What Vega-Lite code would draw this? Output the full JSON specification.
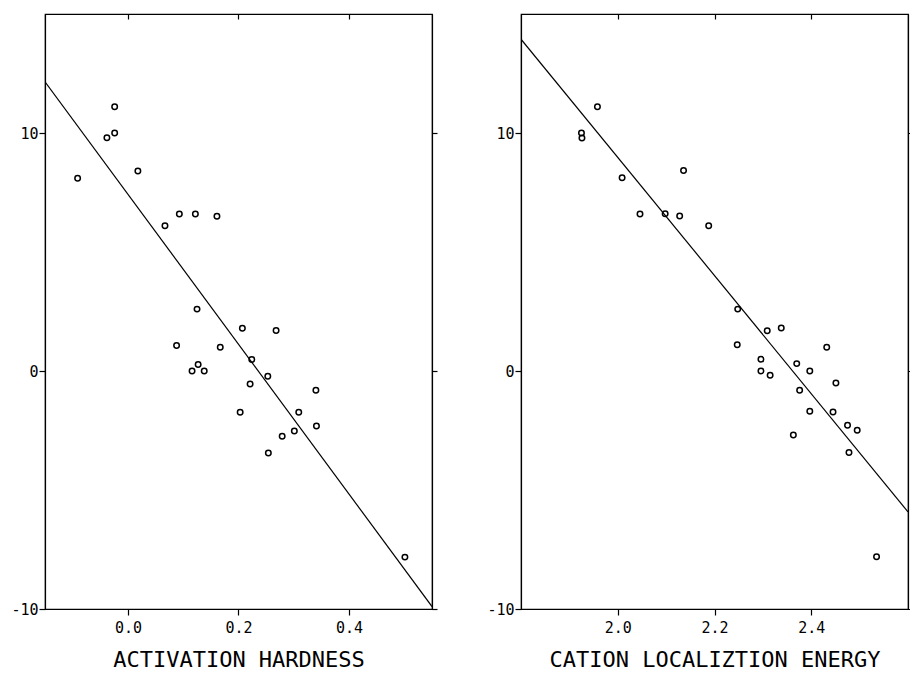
{
  "$schema": "https://vega.github.io/schema/vega-lite/v6.json",
  "background": "white",
  "padding": {"left": 10, "top": 12, "right": 0, "bottom": 5},
  "bounds": "flush",
  "spacing": 89,
  "config": {
    "view": {"stroke": "black", "strokeWidth": 1.2},
    "axis": {
      "grid": false,
      "domainColor": "black",
      "domainWidth": 1.2,
      "tickColor": "black",
      "tickWidth": 1.2,
      "labelFont": "DejaVu Sans Mono",
      "labelFontSize": 15,
      "labelColor": "black",
      "titleFont": "DejaVu Sans Mono",
      "titleFontSize": 22,
      "titleFontWeight": "normal",
      "titleColor": "black"
    }
  },
  "datasets": {
    "hardness": [
      {"x": -0.091, "y": 8.1},
      {"x": -0.038, "y": 9.8},
      {"x": -0.024, "y": 10.0},
      {"x": -0.024, "y": 11.1},
      {"x": 0.018, "y": 8.4},
      {"x": 0.067, "y": 6.1},
      {"x": 0.093, "y": 6.6},
      {"x": 0.122, "y": 6.6},
      {"x": 0.161, "y": 6.5},
      {"x": 0.125, "y": 2.6},
      {"x": 0.207, "y": 1.8},
      {"x": 0.268, "y": 1.7},
      {"x": 0.088, "y": 1.07},
      {"x": 0.167, "y": 1.0},
      {"x": 0.116, "y": 0.0},
      {"x": 0.127, "y": 0.27},
      {"x": 0.138, "y": 0.0},
      {"x": 0.224, "y": 0.48},
      {"x": 0.253, "y": -0.22},
      {"x": 0.221, "y": -0.55},
      {"x": 0.34, "y": -0.81},
      {"x": 0.203, "y": -1.73},
      {"x": 0.309, "y": -1.73},
      {"x": 0.341, "y": -2.31},
      {"x": 0.301, "y": -2.52},
      {"x": 0.279, "y": -2.74},
      {"x": 0.254, "y": -3.45},
      {"x": 0.501, "y": -7.82}
    ],
    "cation": [
      {"x": 1.958, "y": 11.1},
      {"x": 1.925, "y": 10.0},
      {"x": 1.926, "y": 9.79},
      {"x": 2.009, "y": 8.12},
      {"x": 2.136, "y": 8.42},
      {"x": 2.046, "y": 6.6},
      {"x": 2.098, "y": 6.61},
      {"x": 2.128, "y": 6.51},
      {"x": 2.188, "y": 6.1},
      {"x": 2.248, "y": 2.6},
      {"x": 2.309, "y": 1.69},
      {"x": 2.338, "y": 1.81},
      {"x": 2.247, "y": 1.1},
      {"x": 2.296, "y": 0.49},
      {"x": 2.296, "y": 0.0},
      {"x": 2.315, "y": -0.18},
      {"x": 2.37, "y": 0.31},
      {"x": 2.397, "y": 0.0},
      {"x": 2.432, "y": 1.0},
      {"x": 2.451, "y": -0.5},
      {"x": 2.376, "y": -0.81},
      {"x": 2.397, "y": -1.69},
      {"x": 2.445, "y": -1.72},
      {"x": 2.475, "y": -2.28},
      {"x": 2.495, "y": -2.49},
      {"x": 2.363, "y": -2.69},
      {"x": 2.478, "y": -3.42},
      {"x": 2.535, "y": -7.8}
    ],
    "fitHardness": [
      {"x": -0.15, "y": 12.15},
      {"x": 0.55, "y": -9.9}
    ],
    "fitCation": [
      {"x": 1.8, "y": 13.94},
      {"x": 2.6, "y": -5.92}
    ]
  },
  "hconcat": [
    {
      "width": 387,
      "height": 595,
      "resolve": {"axis": {"x": "independent", "y": "independent"}},
      "layer": [
        {
          "data": {"name": "hardness"},
          "mark": {"type": "point", "shape": "circle", "filled": false, "stroke": "black", "strokeWidth": 1.5, "size": 30, "opacity": 1},
          "encoding": {
            "x": {"field": "x", "type": "quantitative",
              "scale": {"domain": [-0.15, 0.55], "nice": false, "zero": false},
              "axis": {"orient": "bottom", "values": [0, 0.2, 0.4], "format": ".1f", "tickSize": 6, "labelPadding": 5, "title": "ACTIVATION HARDNESS", "titlePadding": 14}},
            "y": {"field": "y", "type": "quantitative",
              "scale": {"domain": [-10, 15], "nice": false, "zero": false},
              "axis": {"orient": "left", "values": [-10, 0, 10], "labelExpr": "'' + datum.value", "tickSize": 6, "labelPadding": 1, "title": null}}
          }
        },
        {
          "data": {"name": "fitHardness"},
          "mark": {"type": "line", "color": "black", "strokeWidth": 1.2, "clip": true},
          "encoding": {
            "x": {"field": "x", "type": "quantitative",
              "axis": {"orient": "top", "values": [0, 0.2, 0.4], "labels": false, "tickSize": -5, "title": null}},
            "y": {"field": "y", "type": "quantitative",
              "axis": {"orient": "right", "values": [-10, 0, 10], "labels": false, "tickSize": 5, "title": null}}
          }
        }
      ]
    },
    {
      "width": 387,
      "height": 595,
      "resolve": {"axis": {"x": "independent", "y": "independent"}},
      "layer": [
        {
          "data": {"name": "cation"},
          "mark": {"type": "point", "shape": "circle", "filled": false, "stroke": "black", "strokeWidth": 1.5, "size": 30, "opacity": 1},
          "encoding": {
            "x": {"field": "x", "type": "quantitative",
              "scale": {"domain": [1.8, 2.6], "nice": false, "zero": false},
              "axis": {"orient": "bottom", "values": [2.0, 2.2, 2.4], "format": ".1f", "tickSize": 6, "labelPadding": 5, "title": "CATION LOCALIZTION ENERGY", "titlePadding": 14}},
            "y": {"field": "y", "type": "quantitative",
              "scale": {"domain": [-10, 15], "nice": false, "zero": false},
              "axis": {"orient": "left", "values": [-10, 0, 10], "labelExpr": "'' + datum.value", "tickSize": 6, "labelPadding": 1, "title": null}}
          }
        },
        {
          "data": {"name": "fitCation"},
          "mark": {"type": "line", "color": "black", "strokeWidth": 1.2, "clip": true},
          "encoding": {
            "x": {"field": "x", "type": "quantitative",
              "axis": {"orient": "top", "values": [2.0, 2.2, 2.4], "labels": false, "tickSize": -5, "title": null}},
            "y": {"field": "y", "type": "quantitative",
              "axis": {"orient": "right", "values": [-10, 0, 10], "labels": false, "tickSize": 5, "title": null}}
          }
        }
      ]
    }
  ]
}
